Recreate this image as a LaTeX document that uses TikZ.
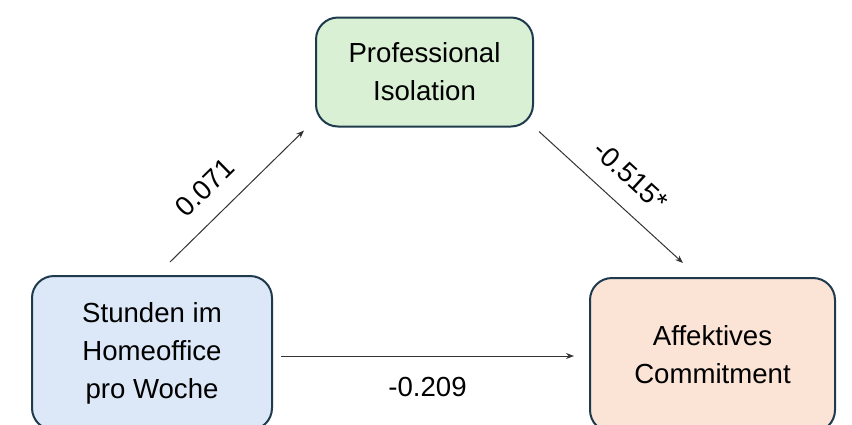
\documentclass[tikz,border=0pt]{standalone}
\usepackage{fontspec}
\setmainfont{Liberation Sans}
\usetikzlibrary{arrows.meta}

\definecolor{boxline}{HTML}{1E3A4C}
\definecolor{isofill}{HTML}{D9F0D4}
\definecolor{homefill}{HTML}{DCE8F8}
\definecolor{afffill}{HTML}{FBE3D6}
\definecolor{arrline}{HTML}{333333}

\begin{document}
\begin{tikzpicture}[x=0.5pt, y=-0.5pt,
    box/.style={draw=boxline, line width=1pt, rounded corners=11pt, align=center,
                font=\fontsize{13.8}{19}\selectfont, inner sep=0pt},
    arr/.style={-{Stealth[length=4pt,width=3pt]}, arrline, line width=0.5pt},
    coef/.style={font=\fontsize{13.8}{16}\selectfont, text=black}]
            \useasboundingbox (0,0) rectangle (852,424);
            \node[box, fill=isofill, minimum width=108.5pt, minimum height=54.5pt] (iso) at (424.5,72) {Professional\\Isolation};
            \node[box, fill=homefill, minimum width=120pt, minimum height=77pt] (home) at (152,353) {Stunden im\\Homeoffice\\pro Woche};
            \node[box, fill=afffill, minimum width=122.5pt, minimum height=77pt] (aff) at (712.5,355) {Affektives\\Commitment};
            \draw[arr] ([xshift=9pt, yshift=6.5pt]home.north) -- ([xshift=-5.5pt, yshift=-1.5pt]iso.south west)
                node[coef, pos=0.41, sloped, above=6pt] {0.071};
            \draw[arr] ([xshift=2.5pt, yshift=-2pt]iso.south east) -- ([xshift=-14.75pt, yshift=7pt]aff.north)
                node[coef, midway, sloped, above=6pt] {-0.515*};
            \draw[arr] ([xshift=4pt, yshift=-1.5pt]home.east) -- ([xshift=-7.5pt, yshift=-0.5pt]aff.west)
                node[coef, midway, below=7pt] {-0.209};
        \end{tikzpicture}
\end{document}
